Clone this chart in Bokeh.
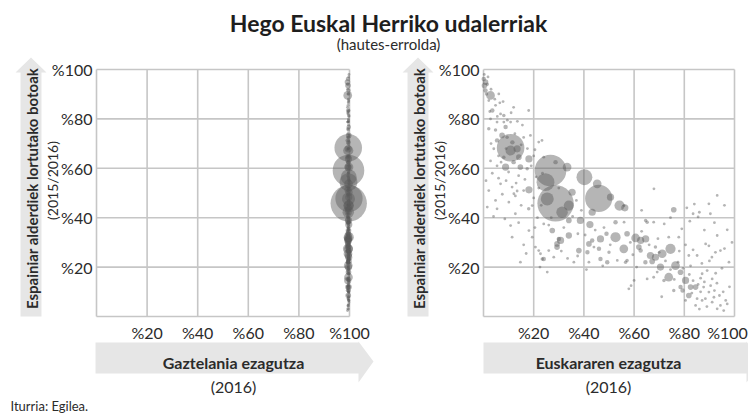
import math
from bokeh.plotting import figure
from bokeh.models import Range1d, ColumnDataSource
from bokeh.core.properties import value
from bokeh.embed import file_html
from bokeh.resources import INLINE

# ---------------- data (one entry per municipality) ----------------
euskara = [
    28.7, 26.7, 10.8, 45.9, 24.7, 40.2, 25.4, 31.3, 34.0, 54.2,
    10.8, 52.6, 74.5, 45.3, 33.3, 2.8, 55.9, 60.6, 71.2, 73.8,
    76.5, 50.6, 56.3, 35.3, 18.1, 43.3, 42.4, 38.6, 30.7, 46.6,
    62.6, 64.6, 66.5, 68.5, 70.5, 80.5, 13.4, 8.8, 18.1, 34.0,
    34.0, 27.4, 29.3, 38.0, 57.2, 75.8, 78.5, 82.5, 84.5, 81.8,
    61.9, 0.8, 0.4, 7.4, 14.1, 14.7, 29.3, 42.0, 67.2, 28.7,
    43.3, 62.6, 52.6, 46.6, 49.3, 24.0, 64.5, 0.1, 0.8, 3.5,
    8.8, 5.4, 11.5, 12.0, 30.0, 41.4, 46.0, 49.0, 78.5, 79.3,
    64.6, 57.2, 65.2, 68.5, 1.5, 1.2, 8.1, 2.1, 4.8, 9.4,
    8.1, 17.4, 18.0, 23.4, 50.0, 56.6, 75.8, 71.9, 67.8, 2.1,
    6.8, 2.8, 5.4, 8.1, 4.1, 5.4, 16.0, 19.4, 37.6, 44.0,
    67.8, 65.2, 89.1, 89.8, 88.4, 91.1, 85.1, 9.0, 3.0, 1.8,
    4.5, 39.0, 48.0, 58.5, 63.0, 66.0, 70.0, 72.5, 74.5, 76.0,
    83.5, 86.5, 83.0, 10.8, 18.7, 4.8, 20.0, 2.8, 12.1, 12.7,
    13.4, 19.4, 20.7, 22.7, 31.0, 25.4, 26.0, 36.0, 53.3, 57.9,
    88.5, 85.1, 77.8, 69.2, 87.1, 91.1, 87.7, 87.1, 91.8, 94.4,
    95.7, 80.5, 84.5, 56.0, 56.0, 9.0, 14.0, 16.5, 21.0, 20.0,
    12.5, 6.5, 0.3, 9.5, 16.0, 22.0, 23.0, 30.0, 37.0, 35.5,
    27.0, 26.0, 32.0, 40.5, 44.5, 50.5, 37.5, 33.5, 59.5, 69.5,
    77.5, 79.5, 82.0, 85.5, 6.1, 22.0, 23.3, 12.0, 18.0, 4.8,
    11.4, 10.1, 5.4, 2.1, 1.5, 6.8, 12.7, 10.8, 11.4, 18.1,
    14.7, 22.0, 42.0, 83.5, 90.4, 89.8, 93.1, 82.2, 89.8, 94.4,
    97.1, 93.1, 97.8, 73.8, 93.1, 60.0, 58.8, 81.8, 92.4, 97.1,
    67.9, 86.0, 3.5, 6.0, 7.5, 15.0, 15.5, 20.5, 24.0, 21.5,
    24.0, 16.0, 22.5, 47.5, 41.0, 28.0, 61.0, 82.5, 78.0, 80.5,
    90.0, 93.0, 95.5, 98.0, 96.0, 84.0, 72.0, 63.0, 71.0, 85.5,
    86.5, 88.0, 90.5, 92.0, 94.0, 96.5, 89.0, 86.0, 92.5, 95.0,
    91.0, 87.0, 83.5, 79.0, 74.5, 88.0, 92.0, 99.0, 96.0, 81.0,
    3.0, 6.0, 10.0, 13.0, 7.0, 2.5, 5.5, 7.8, 11.0, 13.5,
    15.0, 17.5, 19.0, 23.5, 1.0, 4.0, 8.5, 14.0, 20.5, 17.0,
]

botoak = [
    45.8, 59.1, 68.3, 47.8, 54.4, 56.4, 47.6, 42.2, 44.9, 44.9,
    67.2, 32.1, 27.4, 53.7, 60.5, 89.5, 27.4, 31.8, 25.4, 15.9,
    20.6, 48.3, 44.0, 50.3, 51.3, 42.2, 37.2, 38.9, 30.8, 31.4,
    30.8, 31.4, 24.7, 24.0, 20.0, 14.6, 67.9, 60.5, 63.8, 32.8,
    38.9, 34.8, 28.1, 26.7, 33.5, 43.2, 17.9, 11.9, 11.9, 8.5,
    28.1, 94.9, 93.5, 73.3, 64.5, 60.5, 29.4, 29.4, 22.3, 62.5,
    30.8, 26.7, 38.2, 23.3, 22.0, 23.3, 22.0, 96.2, 91.5, 83.4,
    76.7, 71.3, 70.5, 62.5, 31.4, 26.0, 27.4, 33.5, 11.9, 10.5,
    38.9, 22.7, 38.2, 28.1, 94.0, 90.1, 81.4, 76.0, 75.5, 72.6,
    64.5, 59.8, 43.6, 23.3, 26.0, 22.0, 10.5, 14.6, 38.2, 87.4,
    82.0, 80.0, 78.7, 78.7, 67.9, 61.0, 51.0, 44.9, 33.5, 28.1,
    15.9, 15.2, 18.6, 9.9, 7.2, 5.8, 7.2, 68.0, 92.0, 97.0,
    88.0, 43.0, 36.0, 30.0, 34.5, 29.0, 26.0, 22.5, 19.0, 15.0,
    14.5, 10.0, 9.5, 78.7, 73.3, 85.5, 65.0, 63.0, 49.7, 48.8,
    50.8, 32.1, 28.1, 25.4, 26.5, 18.0, 26.7, 22.0, 22.7, 11.2,
    29.4, 24.7, 32.1, 18.0, 17.3, 15.2, 11.9, 6.5, 7.8, 4.5,
    2.4, 6.5, 4.5, 38.2, 44.9, 55.0, 57.0, 55.5, 56.5, 48.0,
    74.0, 86.5, 98.0, 79.5, 72.5, 52.0, 45.0, 52.0, 47.0, 40.5,
    40.0, 37.0, 36.0, 33.0, 35.0, 29.0, 24.5, 23.5, 25.0, 31.5,
    22.0, 19.5, 17.0, 13.0, 90.1, 70.6, 71.3, 84.7, 83.4, 47.0,
    52.4, 46.3, 43.6, 51.0, 44.3, 53.7, 41.6, 36.8, 32.1, 34.8,
    22.0, 26.7, 22.0, 41.6, 41.6, 45.6, 49.0, 38.6, 28.6, 26.7,
    35.1, 32.8, 22.0, 32.1, 3.1, 14.6, 12.5, 24.7, 26.0, 5.1,
    51.7, 42.2, 58.0, 56.0, 49.5, 45.0, 77.5, 67.5, 64.5, 40.0,
    37.5, 29.0, 20.0, 20.5, 19.0, 24.0, 20.0, 20.5, 26.5, 29.0,
    22.5, 13.5, 10.0, 12.0, 45.0, 45.5, 37.5, 43.0, 8.0, 40.3,
    15.5, 14.0, 12.5, 10.5, 8.5, 6.5, 4.0, 3.0, 17.5, 19.5,
    24.0, 21.5, 27.0, 35.5, 40.0, 35.0, 38.0, 30.0, 27.5, 44.0,
    70.0, 65.0, 58.5, 54.0, 62.5, 83.0, 81.0, 87.0, 82.5, 79.0,
    69.5, 68.0, 61.0, 58.0, 55.0, 40.5, 39.5, 38.0, 36.0, 25.5,
]

gaztelania = [
    99.7, 99.6, 99.5, 99.8, 99.6, 99.7, 99.6, 99.5, 99.7, 99.6,
    99.5, 99.7, 99.4, 99.6, 99.8, 99.3, 99.6, 99.5, 99.4, 99.6,
    99.5, 99.7, 99.6, 99.8, 99.4, 99.5, 99.7, 99.6, 99.3, 99.5,
    99.6, 99.4, 99.5, 99.7, 99.6, 99.3, 99.5, 99.4, 99.6, 99.7,
    99.5, 99.6, 99.4, 99.7, 99.5, 99.3, 99.6, 99.8, 99.4, 99.5,
    99.6, 99.2, 99.4, 99.7, 99.5, 99.6, 99.3, 99.5, 99.8, 99.6,
    99.4, 99.7, 99.5, 99.6, 99.3, 99.8, 99.5, 99.4, 99.6, 99.5,
    99.7, 99.3, 99.6, 99.5, 99.4, 99.8, 99.6, 99.3, 99.5, 99.7,
    99.6, 99.4, 99.8, 99.5, 99.3, 99.6, 99.7, 99.4, 99.5, 99.6,
    99.3, 99.7, 99.5, 99.6, 99.8, 99.4, 99.2, 99.6, 99.5, 99.7,
    99.4, 99.6, 99.3, 99.7, 99.5, 99.8, 99.4, 99.6, 99.5, 99.3,
    99.7, 99.5, 99.2, 99.6, 99.4, 99.8, 99.5, 99.6, 99.3, 99.7,
    99.5, 99.4, 99.6, 99.8, 99.3, 99.5, 99.7, 99.4, 99.6, 99.2,
    99.6, 99.5, 99.7, 99.3, 99.8, 99.4, 99.6, 99.5, 99.7, 99.3,
    99.4, 99.6, 99.5, 99.8, 99.2, 99.7, 99.4, 99.6, 99.5, 99.3,
    99.7, 99.5, 99.6, 99.4, 99.8, 99.3, 99.5, 99.7, 99.6, 99.4,
    99.2, 99.6, 99.5, 99.7, 99.4, 99.8, 99.3, 99.6, 99.5, 99.7,
    99.4, 99.5, 99.8, 99.6, 99.3, 99.7, 99.5, 99.4, 99.6, 99.2,
    99.6, 99.7, 99.4, 99.5, 99.8, 99.3, 99.6, 99.5, 99.7, 99.4,
    99.5, 99.3, 99.7, 99.6, 99.4, 99.8, 99.5, 99.2, 99.6, 99.7,
    99.3, 99.6, 99.5, 99.4, 99.7, 99.8, 99.5, 99.6, 99.3, 99.4,
    99.7, 99.5, 99.6, 99.2, 99.4, 99.8, 99.6, 99.5, 99.7, 99.3,
    99.5, 99.4, 99.7, 99.6, 99.3, 99.8, 99.5, 99.6, 99.4, 99.7,
    99.6, 99.3, 99.5, 99.7, 99.4, 99.8, 99.6, 99.2, 99.5, 99.7,
    99.4, 99.6, 99.5, 99.3, 99.7, 99.8, 99.5, 99.6, 99.4, 99.3,
    99.6, 99.5, 99.7, 99.4, 99.8, 99.6, 99.3, 99.5, 99.7, 99.4,
    99.5, 99.7, 99.4, 99.6, 99.3, 99.8, 99.5, 99.6, 99.4, 99.7,
    99.6, 99.4, 99.7, 99.5, 99.3, 99.6, 99.8, 99.5, 99.4, 99.6,
    99.3, 99.5, 99.6, 99.7, 99.4, 99.5, 99.8, 99.6, 99.3, 99.5,
    99.7, 99.4, 99.6, 99.5, 99.8, 99.3, 99.6, 99.4, 99.5, 99.7,
]

# population (thousands) -> bubble area
biztanleak = [
    330, 250, 190, 185, 80, 63, 42, 33, 26, 26,
    26, 26, 26, 19, 19, 19, 19, 19, 19, 19,
    19, 13, 13, 13, 13, 13, 13, 13, 13, 13,
    13, 13, 13, 13, 13, 13, 13, 13, 13, 10,
    8, 8, 8, 8, 8, 8, 8, 8, 8, 8,
    8, 8, 8, 8, 8, 8, 8, 8, 8, 5,
    5, 5, 5, 5, 5, 5, 5, 5, 5, 5,
    5, 5, 5, 5, 5, 5, 5, 5, 5, 5,
    3, 3, 3, 3, 3, 3, 3, 3, 3, 3,
    3, 3, 3, 3, 3, 3, 3, 3, 2, 2,
    2, 2, 2, 2, 2, 2, 2, 2, 2, 2,
    2, 2, 2, 2, 2, 2, 2, 2, 2, 2,
    2, 2, 2, 2, 2, 2, 2, 2, 2, 2,
    2, 2, 2, 1.5, 1.5, 1.5, 1.5, 1.5, 1.5, 1.5,
    1.5, 1.5, 1.5, 1.5, 1.5, 1.5, 1.5, 1.5, 1.5, 1.5,
    1.5, 1.5, 1.5, 1.5, 1.5, 1.5, 1.5, 1.5, 1.5, 1.5,
    1.5, 1.5, 1.5, 1.5, 1.5, 1.5, 1.5, 1.5, 1.5, 1.5,
    1.5, 1.5, 1.5, 1.5, 1.5, 1.5, 1.5, 1.5, 1.5, 1.5,
    1.5, 1.5, 1.5, 1.5, 1.5, 1.5, 1.5, 1.5, 1.5, 1.5,
    1.5, 1.5, 1.5, 1.5, 1, 1, 1, 1, 1, 1,
    1, 1, 1, 1, 1, 1, 1, 1, 1, 1,
    1, 1, 1, 1, 1, 1, 1, 1, 1, 1,
    1, 1, 1, 1, 1, 1, 1, 1, 1, 1,
    1, 1, 1, 1, 1, 1, 1, 1, 1, 1,
    1, 1, 1, 1, 1, 1, 1, 1, 1, 1,
    1, 1, 1, 1, 1, 1, 1, 1, 1, 1,
    1, 1, 1, 1, 1, 1, 1, 1, 1, 1,
    1, 1, 1, 1, 1, 1, 1, 1, 1, 1,
    1, 1, 1, 1, 1, 1, 1, 1, 1, 1,
    1, 1, 1, 1, 1, 1, 1, 1, 1, 1,
]

tick_values = [20, 40, 60, 80, 100]
tick_labels = ["%20", "%40", "%60", "%80", "%100"]
grid_values = [0, 20, 40, 60, 80, 100]

title_text = "Hego Euskal Herriko udalerriak"
subtitle_text = "(hautes-errolda)"
y_title = "Espainiar alderdiek lortutako botoak"
y_sub = "(2015/2016)"
x_titles = ["Gaztelania ezagutza", "Euskararen ezagutza"]
x_sub = "(2016)"
source_text = "Iturria: Egilea."

# ---------------- layout / style ----------------
W, H = 748, 416
FONT = "Lato"
TXT = "#2b2b2b"
GRID = "#c6c6c6"
ARROW = "#e6e6e6"
BUB = "#5a5a5a"


def cy(ay):  # page y (down) -> canvas y (up)
    return H - ay


L0, L100 = 96, 349
R0, R100 = 483, 734
Y0, Y100 = cy(316), cy(69)


def span(p0, p100, total):
    k = (p100 - p0) / 100.0
    return Range1d(start=-p0 / k, end=(total - p0) / k)


p = figure(width=W, height=H, x_range=Range1d(0, W), y_range=Range1d(0, H),
           output_backend="svg", toolbar_location=None, min_border=0,
           x_axis_type=None, y_axis_type=None)
p.outline_line_color = None
p.background_fill_color = "white"
p.extra_x_ranges = {"lx": span(L0, L100, W), "rx": span(R0, R100, W)}
p.extra_y_ranges = {"py": span(Y0, Y100, H)}

# arrows (decoration)
DX = R0 - L0
ys_arrow = [cy(a) for a in (316, 72, 72, 57, 72, 72, 316)]
xs_arrow = [20, 20, 15, 30.5, 46, 41, 41]
xa_y = [cy(a) for a in (342, 342, 341, 361, 382, 373, 373)]
xa_l = [95, 358, 358, 373, 358, 358, 95]
xa_r = [483, 746, 746, 761, 746, 746, 483]
p.patches(xs=[xs_arrow, [x + DX for x in xs_arrow], xa_l, xa_r],
          ys=[ys_arrow, ys_arrow, xa_y, xa_y],
          fill_color=ARROW, line_color=None)

n = len(grid_values)
for xr in ("lx", "rx"):
    p.segment(x0=grid_values, y0=[grid_values[0]] * n, x1=grid_values, y1=[grid_values[-1]] * n,
              x_range_name=xr, y_range_name="py", line_color=GRID, line_width=1.6)
    p.segment(x0=[grid_values[0]] * n, y0=grid_values, x1=[grid_values[-1]] * n, y1=grid_values,
              x_range_name=xr, y_range_name="py", line_color=GRID, line_width=1.6)

order = sorted(range(len(biztanleak)), key=lambda i: -biztanleak[i])
src = ColumnDataSource(dict(
    gaz=[gaztelania[i] for i in order],
    eus=[euskara[i] for i in order],
    bot=[botoak[i] for i in order],
    s=[max(2.8, 2.0 * math.sqrt(biztanleak[i])) for i in order],
))
for xcol, xr in (("gaz", "lx"), ("eus", "rx")):
    p.scatter(xcol, "bot", size="s", source=src, x_range_name=xr, y_range_name="py",
              fill_color=BUB, fill_alpha=0.45, line_color=None)

tick_style = dict(text_font=value(FONT), text_font_size="16px", text_color=TXT)
m = len(tick_values)
p.text(x=tick_values, y=[cy(332)] * m, text=tick_labels, x_range_name="lx",
       text_align="center", text_baseline="middle", **tick_style)
p.text(x=tick_values, y=[cy(332)] * m, text=tick_labels, x_range_name="rx",
       x_offset=[0, 0, 0, 0, -7],
       text_align="center", text_baseline="middle", **tick_style)
for ax in (92, 92 + DX):
    p.text(x=[ax] * m, y=tick_values, text=tick_labels, y_range_name="py",
           text_align="right", text_baseline="middle", **tick_style)

# titles
p.text(x=[388], y=[cy(22)], text=[title_text], text_font=value(FONT), text_font_style="bold",
       text_font_size="23px", text_color="#1e1e1e", text_align="center", text_baseline="middle")
p.text(x=[388], y=[cy(43)], text=[subtitle_text], text_font=value(FONT),
       text_font_size="15px", text_color=TXT, text_align="center", text_baseline="middle")

p.text(x=[31, 31 + DX], y=[cy(188)] * 2, text=[y_title] * 2, angle=math.pi / 2,
       text_font=value(FONT), text_font_style="bold", text_font_size="15px", text_color=TXT,
       text_align="center", text_baseline="middle")
p.text(x=[52, 52 + DX], y=[cy(180)] * 2, text=[y_sub] * 2, angle=math.pi / 2,
       text_font=value(FONT), text_font_size="14px", text_color=TXT,
       text_align="center", text_baseline="middle")

p.text(x=[233, 608], y=[cy(362)] * 2, text=x_titles, text_font=value(FONT),
       text_font_style="bold", text_font_size="16px", text_color=TXT,
       text_align="center", text_baseline="middle")
p.text(x=[233, 608], y=[cy(386)] * 2, text=[x_sub] * 2, text_font=value(FONT),
       text_font_size="16px", text_color=TXT, text_align="center", text_baseline="middle")

p.text(x=[10], y=[cy(405)], text=[source_text], text_font=value(FONT),
       text_font_size="13px", text_color=TXT, text_align="left", text_baseline="middle")

open("out.html", "w").write(file_html(p, INLINE))
